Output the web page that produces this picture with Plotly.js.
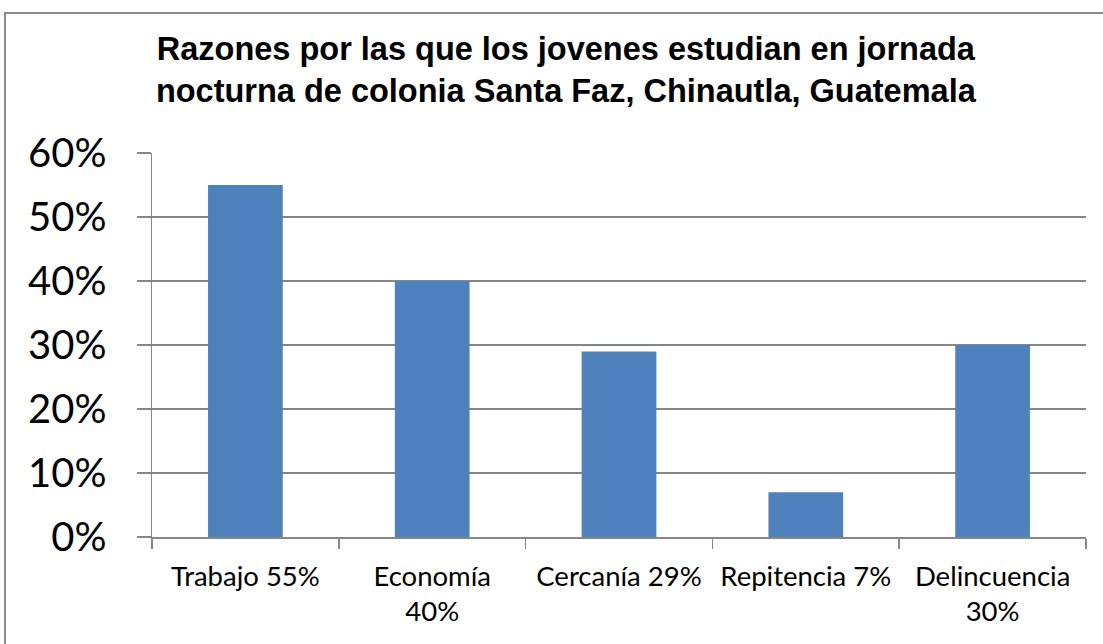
<!DOCTYPE html>
<html>
<head>
<meta charset="utf-8">
<script src="https://cdn.plot.ly/plotly-3.0.1.min.js"></script>
<style>
html,body{margin:0;padding:0;overflow:hidden;background:#fff;}
#chart{width:1103px;height:644px;}
#frame{position:absolute;left:4px;top:12px;width:1200px;height:700px;border:2px solid #8c8c8c;pointer-events:none;}
</style>
</head>
<body>
<div id="chart"></div>
<div id="frame"></div>
<script>
const categories = ["Trabajo 55%", "Economía<br>40%", "Cercanía 29%", "Repitencia 7%", "Delincuencia<br>30%"];
const values = [0.55, 0.40, 0.29, 0.07, 0.30];
const yTickVals = [0, 0.1, 0.2, 0.3, 0.4, 0.5, 0.6];
const yTickText = ["0%", "10%", "20%", "30%", "40%", "50%", "60%"];
const titleText = "<b>Razones por las que los jovenes estudian en jornada<br>nocturna de colonia Santa Faz, Chinautla, Guatemala</b>";

const trace = {
  type: "bar",
  x: categories,
  y: values,
  marker: {color: "#4f81bd"},
  hoverinfo: "x+y"
};

const layout = {
  width: 1103,
  height: 644,
  margin: {l: 152, r: 17, t: 153, b: 107},
  paper_bgcolor: "#ffffff",
  plot_bgcolor: "#ffffff",
  bargap: 0.6,
  showlegend: false,
  title: {
    text: titleText,
    font: {family: "Liberation Sans, Arial, sans-serif", size: 32.5, color: "#000"},
    x: 0.513,
    xanchor: "center",
    y: 0.907,
    yanchor: "top"
  },
  xaxis: {
    type: "category",
    tickson: "boundaries",
    ticks: "outside",
    ticklen: 10,
    tickcolor: "#868686",
    tickwidth: 1.5,
    showline: true,
    linecolor: "#868686",
    linewidth: 1.5,
    showgrid: false,
    ticklabelstandoff: 14,
    tickfont: {family: "Lato, sans-serif", size: 27.5, color: "#000"},
    automargin: false
  },
  yaxis: {
    range: [0, 0.6],
    tickvals: yTickVals,
    ticktext: yTickText,
    ticks: "outside",
    ticklen: 14,
    tickcolor: "#868686",
    tickwidth: 1.5,
    showline: true,
    linecolor: "#868686",
    linewidth: 1.5,
    showgrid: true,
    gridcolor: "#868686",
    gridwidth: 1.5,
    zeroline: false,
    ticklabelstandoff: 22,
    tickfont: {family: "Lato, sans-serif", size: 40, color: "#000"},
    automargin: false
  }
};

Plotly.newPlot("chart", [trace], layout, {displayModeBar: false, staticPlot: true});
</script>
</body>
</html>
